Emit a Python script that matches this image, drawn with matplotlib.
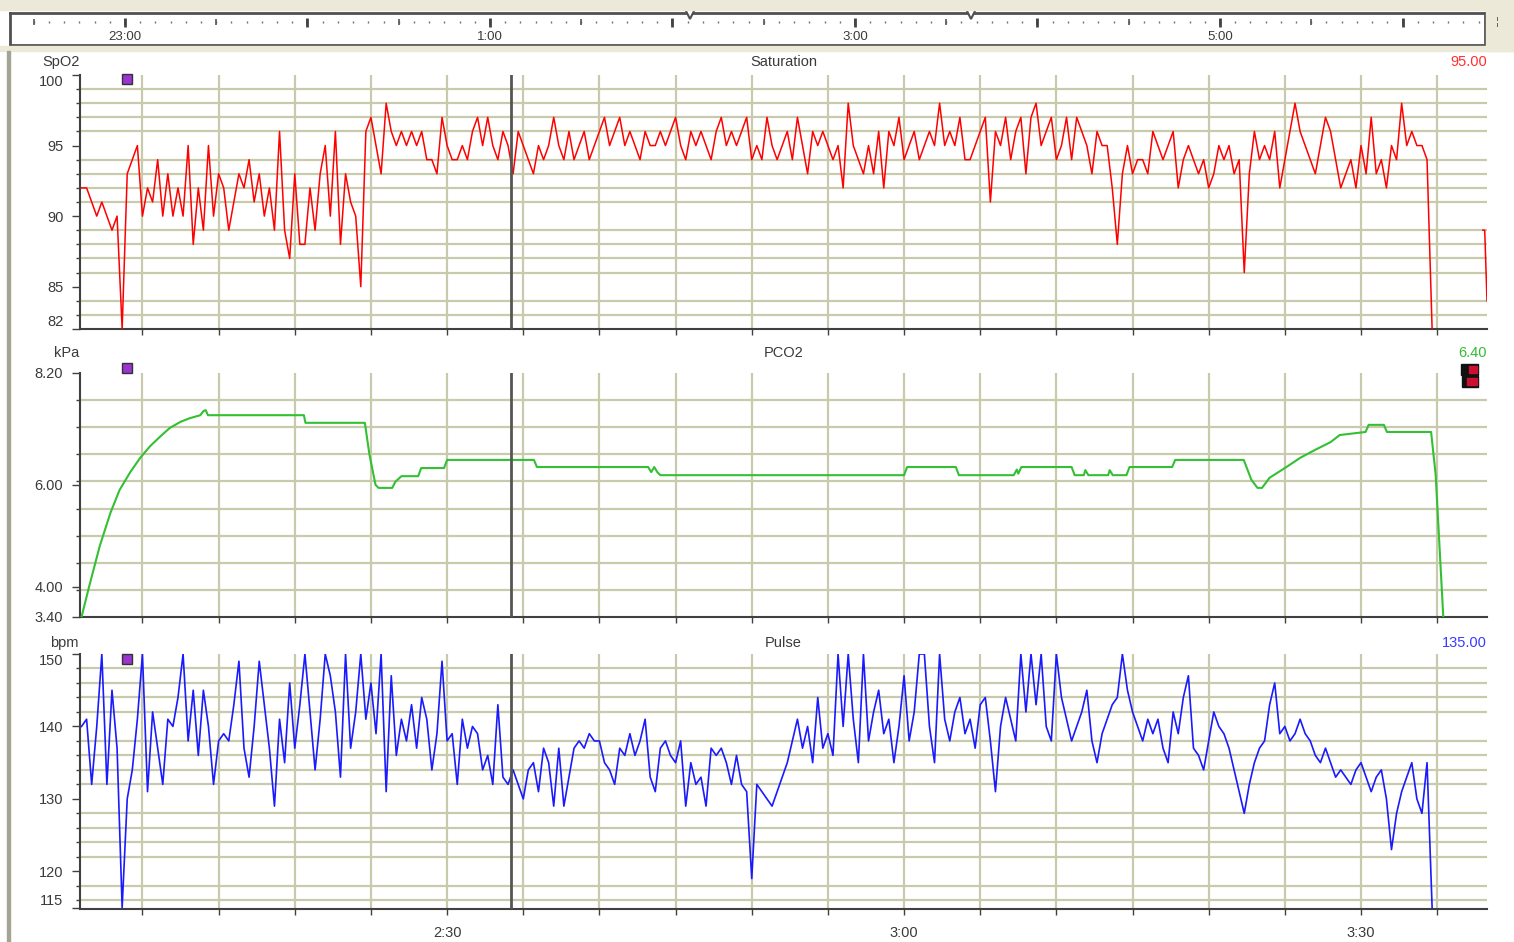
import numpy as np
import matplotlib
matplotlib.use("Agg")
import matplotlib.pyplot as plt
from matplotlib.patches import Rectangle
from matplotlib.ticker import FuncFormatter

plt.rcParams['font.family'] = ['Liberation Sans', 'DejaVu Sans']

W, H = 1514, 942

# ---- data: time in minutes after 2:00, one sample every 20 s ----
t_start = 6.0
t_step = 1 / 3

spo2 = [92, 92, 91, 90, 91, 90, 89, 90, 82, 93, 94, 95,
        90, 92, 91, 94, 90, 93, 90, 92, 90, 95, 88, 92, 89, 95, 90,
        93, 92, 89, 91, 93, 92, 94, 91, 93, 90, 92, 89, 96, 89, 87,
        93, 88, 88, 92, 89, 93, 95, 90, 96, 88, 93, 91, 90, 85, 96,
        97, 95, 93, 98, 96, 95, 96, 95, 96, 95, 96, 94, 94, 93, 97,
        95, 94, 94, 95, 94, 96, 97, 95, 97, 95, 94, 96, 95, 93, 96,
        95, 94, 93, 95, 94, 95, 97, 95, 94, 96, 94, 95, 96, 94, 95,
        96, 97, 95, 96, 97, 95, 96, 95, 94, 96, 95, 95, 96, 95, 96,
        97, 95, 94, 96, 95, 96, 95, 94, 96, 97, 95, 96, 95, 96, 97,
        94, 95, 94, 97, 95, 94, 95, 96, 94, 97, 95, 93, 96, 95, 96,
        95, 94, 95, 92, 98, 95, 94, 93, 95, 93, 96, 92, 96, 95, 97,
        94, 95, 96, 94, 95, 96, 95, 98, 95, 96, 95, 97, 94, 94, 95,
        96, 97, 91, 96, 95, 97, 94, 96, 97, 93, 97, 98, 95, 96, 97,
        94, 95, 97, 94, 97, 96, 95, 93, 96, 95, 95, 92, 88, 93, 95,
        93, 94, 94, 93, 96, 95, 94, 95, 96, 92, 94, 95, 94, 93, 94,
        92, 93, 95, 94, 95, 93, 94, 86, 93, 96, 94, 95, 94, 96, 92,
        94, 96, 98, 96, 95, 94, 93, 95, 97, 96, 94, 92, 93, 94, 92,
        95, 93, 97, 93, 94, 92, 95, 94, 98, 95, 96, 95, 95, 94, 82]

spo2_tail_t = [98.0, 98.12, 98.27]
spo2_tail = [89, 89, 84]

pulse = [140, 141, 132, 140, 150, 132, 145, 137, 115, 130, 134, 141,
         150, 131, 142, 137, 132, 141, 140, 144, 150, 138, 145, 136, 145, 140, 132,
         138, 139, 138, 143, 149, 137, 133, 140, 149, 143, 137, 129, 141, 135, 146,
         137, 143, 150, 142, 134, 141, 150, 147, 142, 133, 150, 137, 142, 150, 141,
         146, 139, 150, 131, 147, 136, 141, 138, 143, 137, 144, 141, 134, 139, 149,
         138, 139, 132, 141, 137, 140, 139, 134, 136, 132, 143, 133, 132, 134, 132,
         130, 134, 135, 131, 137, 135, 129, 137, 129, 133, 137, 138, 137, 139, 138,
         138, 135, 134, 132, 137, 136, 139, 136, 138, 141, 133, 131, 137, 138, 136,
         135, 138, 129, 135, 132, 133, 129, 137, 136, 137, 135, 132, 136, 132, 131,
         119, 132, 131, 130, 129, 131, 133, 135, 138, 141, 137, 140, 135, 144, 137,
         139, 136, 150, 140, 150, 141, 135, 150, 138, 142, 145, 139, 141, 135, 140,
         147, 138, 142, 150, 150, 140, 135, 150, 141, 138, 142, 144, 139, 141, 137,
         143, 144, 138, 131, 140, 144, 141, 138, 150, 142, 150, 143, 150, 140, 138,
         150, 144, 141, 138, 140, 142, 145, 138, 135, 139, 141, 143, 144, 150, 145,
         142, 140, 138, 141, 139, 141, 137, 135, 142, 139, 144, 147, 137, 136, 134,
         138, 142, 140, 139, 137, 134, 131, 128, 132, 135, 137, 138, 143, 146, 139,
         140, 138, 139, 141, 139, 138, 136, 135, 137, 135, 133, 134, 133, 132, 134,
         135, 133, 131, 133, 134, 130, 123, 128, 131, 133, 135, 130, 128, 135, 115]

pco2_t = [6.0, 6.5, 7.2, 7.9, 8.5, 9.2, 9.85, 10.5, 11.2, 11.8, 12.5, 13.1, 13.8,
          14.0, 14.15, 14.3, 20.6, 20.7, 24.6, 24.9, 25.3, 25.5, 26.4, 26.6, 27.0,
          28.1, 28.3, 29.8, 30.0, 35.7, 35.9, 43.2, 43.4, 43.6, 43.8, 44.0, 60.0,
          60.2, 63.4, 63.6, 67.2, 67.4, 67.5, 67.7, 71.0, 71.2, 71.8, 71.9, 72.1,
          73.4, 73.5, 73.7, 74.6, 74.8, 77.6, 77.8, 82.3, 82.8, 83.2, 83.5, 84.0,
          85.0, 86.0, 87.0, 88.0, 88.6, 90.3, 90.5, 91.5, 91.7, 94.6, 94.9, 95.4]
pco2 = [3.40, 4.00, 4.80, 5.45, 5.90, 6.25, 6.53, 6.76, 6.96, 7.12, 7.24, 7.31, 7.37,
        7.45, 7.47, 7.37, 7.37, 7.22, 7.22, 6.60, 6.00, 5.94, 5.94, 6.06, 6.17,
        6.17, 6.33, 6.33, 6.49, 6.49, 6.35, 6.35, 6.25, 6.35, 6.25, 6.19, 6.19,
        6.35, 6.35, 6.19, 6.19, 6.30, 6.22, 6.35, 6.35, 6.19, 6.19, 6.29, 6.19,
        6.19, 6.29, 6.19, 6.19, 6.35, 6.35, 6.49, 6.49, 6.10, 5.94, 5.94, 6.14,
        6.33, 6.53, 6.69, 6.84, 6.98, 7.04, 7.18, 7.18, 7.04, 7.04, 6.20, 3.40]

cursor_t = 34.2
event_t = 9.0
view = (5.9, 98.27)

grid_col = '#c9c9ab'
axis_col = '#404040'
text_col = '#3a3a3a'
fs = 10.5

fig = plt.figure(figsize=(W / 100, H / 100), dpi=100)
fig.patch.set_facecolor('white')


def px_rect(x0, y0, x1, y1):
    return [x0 / W, 1 - y1 / H, (x1 - x0) / W, (y1 - y0) / H]


def time_label(m, pos):
    if m % 30 == 0:
        return "%d:%02d" % (2 + int(m) // 60, int(m) % 60)
    return ""


def panel(rect, ylim, grid_y, ticks, ticklabels, title, unit, unit_dx, value, vcol,
          ev_y, head_px):
    ax = fig.add_axes(rect)
    ax.set_xlim(*view)
    ax.set_ylim(*ylim)
    ax.set_xticks(np.arange(10, 96, 5))
    ax.set_yticks(ticks)
    ax.set_yticklabels(ticklabels)
    ax.set_yticks(grid_y, minor=True)
    ax.grid(True, axis='x', which='major', color=grid_col, lw=1.6)
    ax.grid(True, axis='y', which='minor', color=grid_col, lw=1.6)
    ax.grid(False, axis='y', which='major')
    ax.set_axisbelow(True)
    for s in ['top', 'right']:
        ax.spines[s].set_visible(False)
    for s in ['left', 'bottom']:
        ax.spines[s].set_color(axis_col)
        ax.spines[s].set_linewidth(1.5)
    ax.tick_params(axis='y', which='major', length=6, width=1, color=axis_col,
                   labelsize=fs, labelcolor=text_col, pad=6)
    ax.tick_params(axis='y', which='minor', length=3, width=1, color=axis_col)
    ax.tick_params(axis='x', which='major', length=4, width=1, color=axis_col,
                   labelsize=fs, labelcolor=text_col, pad=8)
    ax.xaxis.set_major_formatter(FuncFormatter(time_label))
    ax.axvline(cursor_t, color='#555555', lw=2, zorder=4)
    ax.plot([event_t], [ev_y], marker='s', ms=6.5, mfc='#9a35d0', mec='#333333',
            mew=1, transform=ax.get_xaxis_transform(), clip_on=False, zorder=6)
    dy = head_px * 0.72
    ax.annotate(title, (0.5, 1), xycoords='axes fraction', xytext=(0, dy),
                textcoords='offset points', ha='center', va='center',
                fontsize=fs, color=text_col)
    ax.annotate(unit, (0, 1), xycoords='axes fraction', xytext=(unit_dx, dy),
                textcoords='offset points', ha='center', va='center',
                fontsize=fs, color=text_col)
    ax.annotate(value, (1, 1), xycoords='axes fraction', xytext=(0, dy),
                textcoords='offset points', ha='right', va='center',
                fontsize=fs, color=vcol)
    return ax


ax1 = panel(px_rect(80, 75, 1487, 329), (82, 100), np.arange(82, 101),
            [82, 85, 90, 95, 100], ['82', '85', '90', '95', '100'],
            'Saturation', 'SpO2', -14, '95.00', '#ff3030', 0.986, 13)
ax2 = panel(px_rect(80, 373, 1487, 617), (3.4, 8.2), np.linspace(3.4, 8.2, 10),
            [3.4, 4.0, 6.0, 8.2], ['3.40', '4.00', '6.00', '8.20'],
            'PCO2', 'kPa', -9.5, '6.40', '#33bb33', 1.02, 20)
ax3 = panel(px_rect(80, 654, 1487, 909), (114.8, 150), np.arange(116, 151, 2),
            [115, 120, 130, 140, 150], ['115', '120', '130', '140', '150'],
            'Pulse', 'bpm', -11, '135.00', '#3a3aff', 0.982, 11)

for ax in (ax1, ax2):
    ax.tick_params(axis='x', labelbottom=False)
for ax in (ax1, ax3):
    labels = ax.get_yticklabels()
    labels[0].set_verticalalignment('bottom')
    labels[-1].set_verticalalignment('top')

t_samples = t_start + t_step * np.arange(len(spo2))
ax1.plot(t_samples, spo2, color='#ff0000', lw=1.1, zorder=3)
ax1.plot(spo2_tail_t, spo2_tail, color='#ff0000', lw=1.1, zorder=3)
ax2.plot(pco2_t, pco2, color='#33c033', lw=1.5, zorder=3)
t_pulse = t_start + t_step * np.arange(len(pulse))
ax3.plot(t_pulse, pulse, color='#1a1aff', lw=1.2, zorder=3)

# status icon next to the PCO2 value
for (x0, y0, x1, y1), (rx0, ry0, rx1, ry1) in [((1461, 364, 1478, 375), (1469, 366, 1477, 373)),
                                                ((1462, 376, 1478, 387), (1467, 378, 1477, 385))]:
    fig.patches.append(Rectangle((x0 / W, 1 - y1 / H), (x1 - x0) / W, (y1 - y0) / H,
                                 transform=fig.transFigure, color='#111111'))
    fig.patches.append(Rectangle((rx0 / W, 1 - ry1 / H), (rx1 - rx0) / W, (ry1 - ry0) / H,
                                 transform=fig.transFigure, color='#cc1030'))

# ---- window chrome ----
beige = '#ece9d8'
fig.patches.append(Rectangle((0, 1 - 10 / H), 1, 10 / H, transform=fig.transFigure,
                             color=beige, zorder=0))
fig.patches.append(Rectangle((0, 1 - 51 / H), 1, 5 / H, transform=fig.transFigure,
                             color=beige, zorder=0))
fig.patches.append(Rectangle((1486 / W, 1 - 51 / H), 28 / W, 51 / H,
                             transform=fig.transFigure, color=beige, zorder=0))
fig.patches.append(Rectangle((7 / W, 0), 2.5 / W, 1 - 51 / H, transform=fig.transFigure,
                             color='#a4a494', zorder=0))

# ---- overview time bar (hours after 22:00) ----
tb = fig.add_axes(px_rect(10, 13, 1485, 45))
tb.set_xlim(0.37, 8.452)
tb.set_ylim(0, 1)
tb.set_yticks([])
for s in tb.spines.values():
    s.set_color('#505050')
    s.set_linewidth(2)
tb.set_xticks([1, 3, 5, 7])
tb.set_xticklabels(['23:00', '1:00', '3:00', '5:00'])
tb.tick_params(axis='x', length=0, labelsize=9.5, labelcolor=text_col, pad=-10)
five = np.arange(0.5, 8.45, 1 / 12)
half = np.arange(0.5, 8.45, 0.5)
hours = np.arange(1, 9, 1.0)
tb.vlines(five, 0.68, 0.76, color='#707070', lw=1)
tb.vlines(half, 0.62, 0.80, color='#555555', lw=1.2)
tb.vlines(hours, 0.56, 0.84, color='#444444', lw=2)
tb.plot([4 + view[0] / 60, 4 + view[1] / 60], [1.0, 1.0], ls='none', marker='v', ms=9,
        mfc='white', mec='#505050', mew=1.5, clip_on=False, zorder=5)
fig.text(1497 / W, 1 - 22 / H, '¦', fontsize=8, color='#555555', ha='center', va='center')

fig.savefig('out.png', dpi=100, facecolor='white')
